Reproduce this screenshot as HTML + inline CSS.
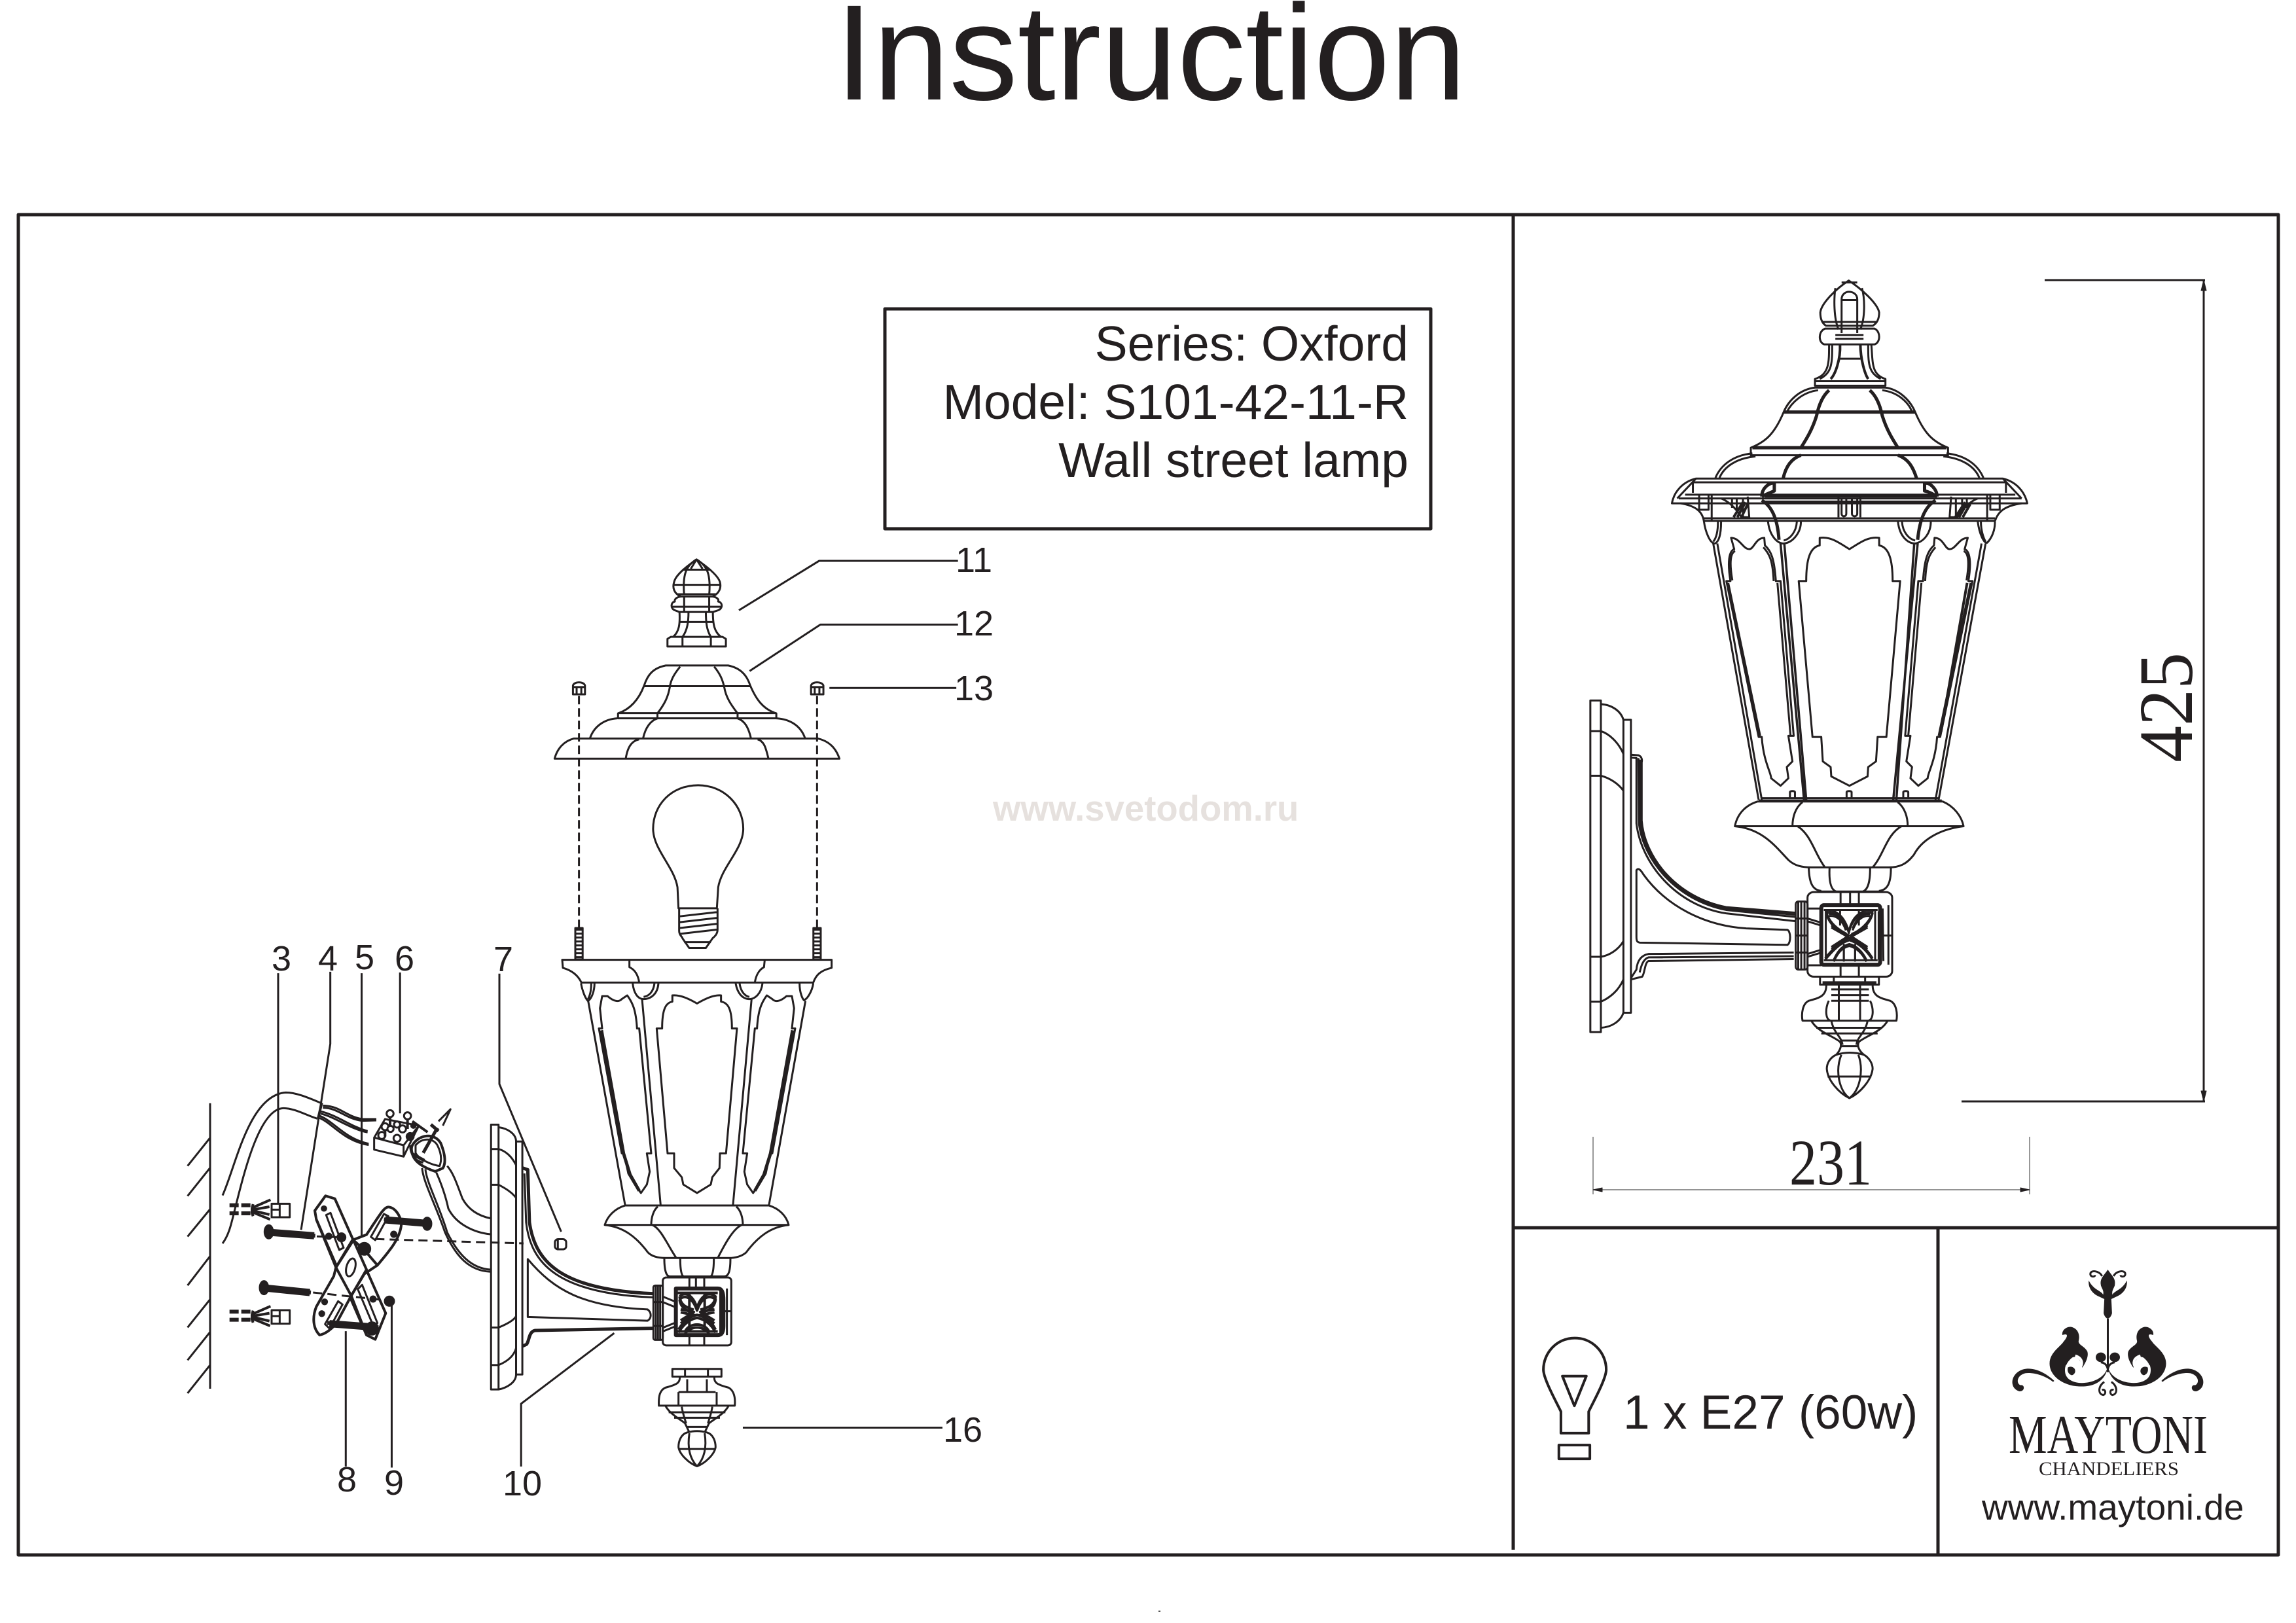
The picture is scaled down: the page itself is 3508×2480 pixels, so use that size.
<!DOCTYPE html>
<html>
<head>
<meta charset="utf-8">
<style>
html,body{margin:0;padding:0;background:#fff}
svg{display:block}
svg path,svg line,svg rect,svg circle,svg ellipse,svg use{vector-effect:non-scaling-stroke}
.l{fill:none;stroke:#231f20;stroke-width:3;stroke-linejoin:round}
.w{fill:#fff}
.t{stroke-width:5}
.k{fill:#231f20}
text{font-family:"Liberation Sans",sans-serif;fill:#231f20}
.s{font-family:"Liberation Serif",serif}
.n{font-size:54px}
</style>
</head>
<body>
<svg width="3508" height="2480" viewBox="0 0 3508 2480" xmlns="http://www.w3.org/2000/svg">
<rect width="3508" height="2480" fill="#fff"/>

<text x="1276" y="152" font-size="208" textLength="964" lengthAdjust="spacingAndGlyphs">Instruction</text>

<g class="l" style="stroke-width:5">
<rect x="28" y="328" width="3453" height="2048"/>
<path d="M2312,328 L2312,2368"/>
<path d="M2312,1876 L3481,1876"/>
<path d="M2961,1876 L2961,2376"/>
<rect x="1352" y="472" width="834" height="336"/>
</g>

<text x="2152" y="551" font-size="75" text-anchor="end">Series: Oxford</text>
<text x="2152" y="640" font-size="75" text-anchor="end">Model: S101-42-11-R</text>
<text x="2152" y="729" font-size="75" text-anchor="end">Wall street lamp</text>

<text x="1517" y="1254" font-size="54.5" font-weight="bold" style="fill:#e6e1de">www.svetodom.ru</text>

<!-- part labels -->
<text class="n" x="1460" y="874">11</text>
<text class="n" x="1458" y="971">12</text>
<text class="n" x="1458" y="1070">13</text>
<text class="n" x="1441" y="2203">16</text>
<text class="n" x="415" y="1483">3</text>
<text class="n" x="486" y="1483">4</text>
<text class="n" x="542" y="1481">5</text>
<text class="n" x="603" y="1483">6</text>
<text class="n" x="754" y="1484">7</text>
<text class="n" x="515" y="2279">8</text>
<text class="n" x="587" y="2284">9</text>
<text class="n" x="768" y="2285">10</text>

<!-- LEFT LAMP: top parts -->
<g class="l" transform="translate(780,820) scale(.5102,.4464)">
<path d="M684,252 L924,83 L1340,83 M716,460 L928,301 L1340,301 M955,518 L1335,518"/>
<path d="M470,376 L470,350 L480,343 L635,343 L645,350 L645,376 Z M515,345 L515,376 M600,345 L600,376"/>
<path d="M487,343 C505,325 508,300 506,258 M630,343 C610,325 606,300 606,258 M515,343 C530,320 533,290 533,258 M600,343 C587,320 585,290 585,258 M506,292 L606,292"/>
<path d="M506,258 L492,252 C478,245 480,225 492,222 C490,212 500,207 510,205 L605,205 C615,207 625,212 622,222 C635,225 637,245 622,252 L606,258 Z M480,240 L634,240 M520,205 L520,258 M595,205 L595,258"/>
<path d="M510,205 C490,195 484,175 490,155 C495,130 530,100 557,78 C585,100 620,130 627,155 C632,175 625,195 605,205 M488,165 L630,165 M500,197 L618,197 M515,113 L600,113 M557,78 C525,100 515,130 520,200 M557,78 C590,100 600,130 595,200 M557,78 L540,110 M557,78 L575,110"/>
<path d="M465,441 C425,450 410,475 400,510 C385,555 360,590 322,605 L322,622 L796,622 L796,605 C755,590 735,555 718,510 C708,475 690,450 652,441 Z M400,512 L718,512 M322,604 L796,604 M508,445 C490,470 480,490 477,515 C472,550 460,575 440,605 L440,622 M610,445 C628,470 635,490 640,515 C645,550 660,575 680,605 L680,622"/>
<path d="M320,622 C280,625 250,650 238,690 M796,622 C840,625 870,650 882,690 M440,622 C420,630 405,650 397,690 M680,622 C700,630 712,650 720,690"/>
<path d="M190,691 L920,691 C955,700 975,725 985,760 L132,760 C140,725 160,700 190,691 Z M385,694 C360,700 350,725 345,760 M740,694 C760,700 765,725 772,758"/>
<path d="M187,540 L187,510 C190,495 220,495 223,510 L223,540 Z M187,515 L223,515 M198,515 L198,540 M212,515 L212,540"/>
<path d="M900,540 L900,510 C903,495 933,495 937,510 L937,540 Z M900,515 L937,515 M911,515 L911,540 M925,515 L925,540"/>
<path stroke-dasharray="13 6" d="M205,545 L205,1340 M918,545 L918,1340"/>
<rect x="194" y="1340" width="22" height="107"/>
<rect x="907" y="1340" width="22" height="107"/>
<path stroke-dasharray="3 3" style="stroke-width:9" d="M205,1342 L205,1445 M918,1342 L918,1445"/>
<path d="M562,851 C480,851 427,920 427,1000 C427,1070 490,1130 500,1200 L503,1272 L618,1272 L622,1200 C632,1130 697,1070 697,1000 C697,920 640,851 562,851 Z"/>
<path d="M505,1272 L505,1350 C505,1365 515,1370 515,1375 L535,1408 L585,1408 L605,1375 C612,1368 620,1360 620,1345 L620,1272 M505,1300 L620,1285 M505,1320 L620,1305 M505,1340 L620,1325 M505,1360 L620,1345 M520,1388 L600,1388"/>
</g>

<!-- LEFT LAMP: body -->
<g class="l" transform="translate(820,1420) scale(.3333,.5612)">
<path d="M117,83 L1352,83 L1352,105 C1300,112 1280,125 1268,145 L205,145 C185,120 150,110 120,105 Z"/>
<path d="M425,85 L425,103 C450,110 465,125 470,145 M1045,85 L1042,103 C1020,110 1005,125 1000,145"/>
<path d="M203,147 C210,170 225,190 235,195 C250,190 265,170 265,147 M250,147 C250,165 245,180 235,190 M440,147 C445,175 465,190 490,190 C525,190 555,175 558,147 M540,147 C535,170 515,182 490,184 M912,147 C920,175 945,190 975,190 C1000,190 1030,175 1035,147 M930,147 C935,170 955,182 975,184 M1205,147 C1205,175 1220,190 1225,193 C1240,190 1262,170 1268,147"/>
<path d="M236,195 L405,750 M1232,195 L1065,750 M483,190 L568,750 M985,190 L900,750"/>
<path d="M622,180 L622,197 C590,200 575,220 575,270 L550,270 L600,610 L630,610 L630,650 L665,675 L672,695 L735,718 L798,695 L805,675 L838,650 L840,610 L868,610 L918,270 L895,270 C895,220 880,200 845,197 L845,180 C810,178 770,190 735,202 C700,190 660,178 622,180 Z"/>
<path id="lp" d="M300,182 L290,215 L300,270 L285,270 L390,610 L400,610 L420,665 L450,695 L478,718 L505,695 L518,660 L505,610 L525,610 L470,270 L460,270 C455,220 440,200 415,180 L390,190 C375,200 350,195 325,182 Z"/>
<path style="stroke-width:5" d="M297,275 L398,610 L428,668 L470,712"/>
<use href="#lp" transform="translate(1470,0) scale(-1,1)"/>
<path style="stroke-width:5" d="M1173,275 L1072,610 L1042,668 L1000,712"/>
<path d="M405,752 L1065,752 C1110,760 1145,780 1155,805 L312,805 C325,780 360,760 405,752 Z M555,755 C535,765 525,785 525,805 M915,755 C935,765 945,785 945,805"/>
<path d="M312,805 C400,810 460,840 510,880 C530,892 560,895 590,895 L880,895 C915,895 940,890 960,880 C1010,840 1070,810 1155,805 M530,805 C570,815 600,860 640,895 M940,805 C900,815 860,860 830,895"/>
<path d="M585,897 C585,930 595,945 610,945 L860,945 C880,945 888,930 888,897 M658,897 C658,930 665,945 675,945 M812,897 C812,930 805,945 795,945"/>
<rect x="578" y="948" width="314" height="185" rx="15" ry="9"/>
<path d="M700,948 L700,978 M730,948 L730,978 M768,948 L768,978 M700,1105 L700,1133 M768,1105 L768,1133 M872,978 L872,1105 M855,1040 L892,1040"/>
<rect x="535" y="970" width="43" height="148" rx="8" ry="5"/>
<path d="M546,970 L546,1118 M556,970 L556,1118 M566,970 L566,1118 M535,1015 L578,1015 M535,1080 L578,1080"/>
<path style="stroke-width:6" d="M638,1105 L638,978 L830,978 C850,978 856,990 856,1010 L856,1080 C856,1098 848,1105 830,1105 Z M846,985 L846,1100"/>
<path d="M578,1000 L640,1015 M578,1015 L640,1030 M578,1085 L640,1070 M578,1095 L640,1080"/>
<path id="orn1" style="stroke-width:4" d="M655,1000 C680,985 715,995 735,1030 C755,995 790,985 820,1000 C815,1025 785,1030 750,1036 M655,1000 C660,1025 690,1030 720,1036 M660,1035 L720,1042 L660,1065 M815,1035 L750,1042 L815,1065 M650,1090 C680,1060 715,1052 735,1050 C755,1052 795,1060 820,1090 M680,1095 C700,1070 770,1070 790,1095"/>
<use href="#orn1" transform="translate(0,8)"/>
<path style="stroke-width:4" d="M645,990 L830,990 M645,1095 L830,1095 M700,990 L700,1095 M770,990 L770,1095"/>
<path d="M622,1197 L847,1197 L847,1218 L622,1218 Z M680,1197 L680,1218 M785,1197 L785,1218"/>
<path d="M655,1218 C660,1235 640,1240 590,1248 C565,1255 558,1270 560,1297 L908,1297 C912,1270 900,1255 880,1248 C830,1240 810,1235 815,1218 M650,1260 L820,1260 M650,1260 L650,1297 M825,1260 L825,1297 M690,1225 L690,1260 M780,1225 L780,1260"/>
<path d="M590,1297 C610,1320 660,1335 680,1345 L700,1370 M880,1297 C860,1320 810,1335 790,1345 L770,1370 M605,1315 L865,1315 M630,1330 L840,1330 M665,1300 C670,1320 680,1335 685,1345 M805,1300 C800,1320 790,1335 785,1345 M690,1355 L780,1355"/>
<path d="M690,1370 C660,1375 650,1395 650,1410 C655,1430 700,1455 735,1462 C770,1455 815,1430 820,1410 C820,1395 810,1375 780,1370 C750,1365 720,1365 690,1370 Z M650,1415 L820,1415 M700,1372 C690,1410 700,1440 735,1462 M770,1372 C780,1410 770,1440 735,1462"/>
<path d="M945,1357 L1860,1357"/>
</g>

<!-- wall, bracket and leaders (overview) -->
<g class="l" transform="translate(240,1420) scale(.6378,.574)">
<path d="M290,117 L290,730 M415,113 L415,305 L345,800 M490,117 L490,820 M582,115 L582,490 M820,118 L820,412 L968,805 M452,1070 L452,1430 M562,1000 L562,1433 M1095,1075 L872,1263 L872,1430"/>
<path d="M127,463 L127,1223 M127,555 L73,630 M127,635 L73,710 M127,745 L73,818 M127,870 L73,948 M127,985 L73,1060 M127,1072 L73,1147 M127,1160 L73,1235"/>
<rect class="w" x="800" y="520" width="18" height="705"/>
<rect class="w" x="860" y="565" width="15" height="620"/>
<path d="M818,527 C840,530 860,545 860,565 M818,1225 C840,1220 860,1205 860,1185 M800,585 L818,585 C835,590 850,605 860,628 M800,680 L818,680 C835,690 850,700 860,715 M800,1060 L818,1060 C840,1050 855,1040 860,1030 M800,1160 L818,1160 C840,1150 855,1135 860,1115"/>
<path style="stroke-width:5" d="M875,635 L888,640 L892,780 C905,880 960,960 1190,970"/>
<path d="M880,650 L884,780 C895,890 960,970 1190,980 M888,878 C950,960 1020,1005 1175,1012 C1185,1020 1185,1035 1175,1042 L888,1032 Z"/>
<path style="stroke-width:5" d="M1190,1062 L905,1068 C890,1072 892,1095 885,1105 L875,1110"/>
<rect x="953" y="825" width="27" height="27" rx="8"/>
<path d="M960,825 L960,852"/>
</g>

<!-- bracket detail -->
<g class="l" transform="translate(340,1650) scale(.3333)">
<path d="M0,530 C60,400 120,70 290,58 C340,58 400,85 448,105 M0,750 C30,710 40,660 55,600 C100,420 170,130 280,130 C330,130 390,165 435,178"/>
<path style="stroke-width:4" d="M455,105 L438,178"/>
<path d="M460,118 C540,120 560,165 640,180 L705,180 M460,128 C535,130 555,175 640,188 L705,186 M450,145 C520,160 590,215 665,235 M450,155 C515,170 585,225 665,241 M445,165 C510,190 560,270 670,293 M445,175 C505,200 555,280 670,299"/>
<path class="w" d="M695,265 L695,320 L830,352 L860,290 L900,210 L745,180 Z"/>
<path d="M695,265 L830,300 L830,352 M830,300 L900,210"/>
<circle class="w" cx="768" cy="155" r="16"/><circle class="w" cx="848" cy="165" r="16"/><circle class="w" cx="745" cy="215" r="16"/><circle class="w" cx="800" cy="205" r="14"/><circle class="w" cx="825" cy="225" r="16"/><circle class="w" cx="730" cy="255" r="16"/><circle class="w" cx="800" cy="268" r="16"/><circle class="k" cx="860" cy="260" r="16"/><circle class="w" cx="770" cy="225" r="14"/><circle class="k" cx="875" cy="210" r="10"/>
<path style="stroke-width:4" d="M768,170 L768,210 M848,180 L848,225 M870,190 L940,240 M745,230 L745,260"/>
<path class="w" style="stroke-width:4" d="M870,300 C900,250 970,240 1000,290 C1020,340 1025,380 1010,405 L975,420 C930,405 880,380 870,340 C865,320 865,310 870,300 Z"/>
<path d="M885,300 C915,265 965,265 985,300 C1005,340 1005,370 995,395 C960,390 900,365 885,335 Z M860,300 C860,340 880,370 920,380"/>
<path style="stroke-width:5" d="M920,335 L985,220 M955,205 L990,235 M870,340 L925,370"/>
<path d="M990,190 L1045,135 L1010,210"/>
<path d="M1030,395 C1060,430 1075,480 1100,545 C1130,600 1180,625 1228,635 M980,425 C1000,470 1020,520 1035,590 C1070,660 1150,700 1228,708 M915,405 C920,470 980,580 1020,700 C1070,810 1130,875 1228,880 M930,410 C935,470 995,580 1030,700 C1080,800 1140,865 1228,870"/>

<g id="plug">
<path stroke-dasharray="14 4" style="stroke-width:6" d="M32,575 L135,575 M32,612 L135,612"/>
<path style="stroke-width:4" d="M140,570 L135,590 L135,610 L140,625 M140,585 L220,550 M140,595 L215,582 M140,600 L215,618 M140,608 L218,640"/>
<rect x="225" y="568" width="83" height="62"/>
<path d="M262,568 L262,630 M225,595 L262,595"/>
</g>
<use href="#plug" transform="translate(0,488)"/>

<path class="w" style="stroke-width:4" d="M472,532 L423,600 L430,640 L660,1170 L700,1190 L748,1070 L515,545 Z"/>
<path d="M475,620 L495,610 L555,770 L535,780 Z M620,960 L640,940 L710,1115 L690,1125 Z"/>
<path class="w" style="stroke-width:4" d="M760,583 C740,583 720,620 660,710 L595,735 L520,860 L510,900 L430,1040 C410,1090 415,1140 445,1170 C470,1165 490,1150 520,1120 L590,990 L650,890 L710,850 C760,790 815,730 820,660 C815,620 790,585 760,583 Z"/>
<path style="stroke-width:4" d="M600,735 L520,860 L590,990 M600,735 L650,780 L710,850 M520,860 L430,640 M590,990 L660,1170 M600,735 L660,870 L590,990"/>
<path d="M680,720 L740,615 L760,625 L700,735 Z M470,1120 L530,1015 L550,1030 L490,1140 Z"/>
<ellipse cx="588" cy="860" rx="20" ry="42" transform="rotate(15 588 860)"/>
<circle class="k" cx="650" cy="775" r="27"/>
<circle class="k" cx="465" cy="590" r="10"/><circle class="k" cx="487" cy="717" r="12"/><circle class="k" cx="545" cy="722" r="18"/>
<circle class="k" cx="690" cy="1005" r="12"/><circle class="k" cx="468" cy="1018" r="11"/><circle class="k" cx="455" cy="1072" r="11"/><circle class="k" cx="785" cy="708" r="12"/>
<circle class="k" cx="765" cy="1015" r="21"/>
<path style="stroke-width:6" d="M205,698 L425,715 M175,953 L405,975 M740,640 L940,658 M480,1115 L715,1135"/>
<path style="stroke-width:11" d="M225,700 L420,715 M200,955 L400,975 M745,642 L935,658 M490,1118 L710,1135"/>
<ellipse class="k" cx="212" cy="697" rx="19" ry="30"/>
<ellipse class="k" cx="190" cy="953" rx="19" ry="30"/>
<ellipse class="k" cx="938" cy="660" rx="19" ry="28"/>
<ellipse class="k" cx="685" cy="1140" rx="26" ry="28"/>
<path stroke-dasharray="14 8" d="M432,718 L545,722 M700,730 L1380,750 M415,975 L745,1010"/>
</g>

<!-- RIGHT LAMP top -->
<g class="l" transform="translate(2400,400) scale(.4783,.574)">
<path d="M888,50 C850,70 800,110 797,135 C797,155 805,165 815,170 L965,170 C975,165 985,155 985,135 C980,110 925,70 888,50 Z M805,160 L975,160 M845,70 C840,100 840,150 855,180 M930,70 C940,100 940,150 925,180 M865,55 L915,55 M865,100 C865,85 880,80 888,80 C900,80 915,85 915,100 L915,190 M865,100 L865,190 M865,102 L915,102"/>
<path d="M812,178 L970,178 C990,185 990,215 970,220 L810,220 C790,215 790,185 812,178 Z M845,195 L935,195 M845,205 L935,205"/>
<path d="M825,220 C825,270 825,300 780,312 L780,330 L1005,330 L1005,312 C960,300 965,270 960,220 M835,220 C835,270 835,295 795,312 M950,220 C950,270 950,295 990,312 M855,258 L925,258 M780,318 L1005,318"/>
<path style="stroke-width:4" d="M860,220 C862,260 845,300 830,312 M925,220 C925,260 940,300 950,312"/>
<path d="M780,335 C730,340 695,370 680,400 C650,460 620,480 575,495 L575,515 L1205,515 L1205,495 C1160,480 1130,460 1100,400 C1085,370 1050,340 1005,335 L780,335 M790,342 C740,347 705,375 690,400 M995,342 C1045,347 1080,375 1090,400"/>
<path style="stroke-width:5" d="M680,400 L1100,400 M580,495 L1200,495"/>
<path style="stroke-width:5" d="M825,342 C800,360 790,390 785,410 C770,450 750,475 735,495 M955,342 C980,360 990,390 995,410 C1010,450 1030,475 1045,495"/>
<path d="M580,510 C520,515 480,540 462,575 M590,518 C530,523 490,545 475,575 M1200,510 C1260,515 1300,540 1318,575 M1190,518 C1250,523 1290,545 1305,575"/>
<path style="stroke-width:5" d="M735,515 C700,525 685,550 678,578 M1045,515 C1080,525 1095,550 1105,578"/>
<path d="M400,577 L1380,577 C1420,585 1450,610 1458,643 L323,643 C330,610 360,585 400,577 Z M390,587 L1390,587 L1390,615 M390,587 L390,615 M365,620 L1420,620 M345,630 L1440,630 M400,577 L340,630 M1380,577 L1440,630"/>
<path style="stroke-width:5" d="M620,623 L1170,623 M620,640 L1160,640"/>
<path d="M350,643 C400,650 420,665 425,690 L1355,690 C1365,665 1385,650 1440,643 M425,683 L1355,683 M410,622 L410,660 L440,660 L440,622 M1340,622 L1340,660 L1370,660 L1370,622 M450,622 L450,690 M1330,622 L1330,690"/>
<path d="M425,690 C430,720 445,750 460,750 C475,745 480,720 480,692 M470,692 C470,715 465,735 455,745 M630,692 C635,730 660,750 680,750 C710,748 735,720 735,692 M722,692 C720,720 700,738 680,742 M1045,692 C1050,730 1075,750 1100,750 C1130,745 1150,720 1150,692 M1058,692 C1060,720 1080,738 1100,742 M1300,692 C1305,725 1320,750 1330,748 C1345,735 1355,715 1355,692 M1310,692 C1310,715 1318,735 1325,745"/>
<path style="stroke-width:5" d="M610,635 C640,650 660,680 665,740 M1165,635 C1135,650 1115,680 1108,740 M610,625 C610,600 640,585 650,590 L650,610 C635,615 620,620 610,625 M1170,625 C1170,605 1145,585 1130,590 L1130,610 C1145,612 1160,620 1170,625"/>
<path d="M855,625 L855,680 M925,625 L925,680 M865,632 L865,670 C865,680 880,680 880,670 L880,632 M898,632 L898,670 C898,680 915,680 915,670 L915,632 M850,683 L930,683"/>
<path d="M480,630 C510,640 530,660 545,680 L570,680 L565,625 M515,632 L515,655 M530,632 L530,660 M550,632 L550,680 M1300,630 C1270,640 1250,660 1235,680 L1210,680 L1215,625 M1265,632 L1265,655 M1250,632 L1250,660 M1230,632 L1230,680"/>
<path style="stroke-width:4" d="M520,680 L550,640 M532,680 L558,640 M545,680 L565,645 M1228,680 L1260,640 M1240,680 L1268,640 M1252,680 L1276,645"/>
<path d="M455,750 L600,1432 M468,750 L610,1432 M1325,750 L1175,1432 M1312,750 L1165,1432"/>
<path style="stroke-width:3.5" d="M670,750 L745,1432 M682,750 L752,1432 M1108,750 L1030,1432 M1097,750 L1040,1432"/>
<path d="M795,735 L795,755 C765,760 752,790 752,850 L728,850 L772,1265 L800,1265 L805,1330 L830,1345 L832,1370 L890,1395 L948,1370 L950,1345 L975,1330 L980,1265 L1008,1265 L1052,850 L1028,850 C1028,790 1015,760 985,755 L985,735 C950,730 920,750 890,765 C860,750 830,730 795,735 Z"/>
<path id="rp" d="M512,735 L522,765 C505,770 500,800 510,850 L497,850 L600,1265 L610,1265 C615,1330 640,1360 640,1375 L670,1395 L695,1375 L690,1345 L708,1330 L695,1262 L712,1262 L670,850 L655,850 C650,790 640,770 620,755 L618,735 C590,735 585,765 570,765 C550,765 540,735 512,735 Z"/>
<path d="M503,855 L605,1262 M660,855 L702,1262 M525,770 C510,775 506,800 516,848 M648,850 C645,795 635,778 615,760"/>
<use href="#rp" transform="translate(1780,0) scale(-1,1)"/>
<path d="M1277,855 L1175,1262 M1120,855 L1078,1262 M1255,770 C1270,775 1274,800 1264,848 M1132,850 C1135,795 1145,778 1165,760"/>
<path style="stroke-width:4" d="M1266,855 L1183,1250"/>
<path d="M610,1428 L1175,1428 M600,1434 L1185,1434 M700,1428 L700,1412 C700,1408 716,1408 716,1412 L716,1428 M881,1428 L881,1412 C881,1408 897,1408 897,1412 L897,1428 M1062,1428 L1062,1412 C1062,1408 1078,1408 1078,1412 L1078,1428"/>
</g>

<!-- RIGHT LAMP lower + bracket -->
<g class="l" transform="translate(2400,1050) scale(.3827,.4337)">
<path d="M745,403 L1485,403 C1530,420 1560,455 1568,490 L655,490 C665,445 700,415 745,403 Z M925,405 C895,425 885,460 885,490 M1305,405 C1335,425 1345,460 1345,490"/>
<path d="M655,490 C770,500 820,565 870,610 C895,630 925,635 960,635 L1270,635 C1310,635 1340,625 1370,590 C1400,540 1470,500 1568,490 M905,490 C960,520 975,590 1015,635 M1320,490 C1260,520 1250,590 1205,635"/>
<path d="M950,637 C952,690 965,715 1000,718 M1278,637 C1278,690 1265,715 1230,718 M1033,637 C1030,690 1040,715 1060,720 M1195,637 C1195,690 1185,715 1165,720 M1000,720 L1230,720"/>
<rect x="945" y="722" width="338" height="298" rx="25" ry="20"/>
<path d="M1077,722 L1077,768 M1115,722 L1115,768 M1150,722 L1150,768 M1077,978 L1077,1020 M1150,978 L1150,1020 M1268,768 L1268,978 M1245,875 L1283,875"/>
<rect x="898" y="755" width="47" height="240" rx="10"/>
<path d="M908,755 L908,995 M920,755 L920,995 M933,755 L933,995 M898,815 L945,815 M898,875 L945,875 M898,935 L945,935"/>
<path d="M945,780 L1000,780 M945,980 L1000,980 M945,815 L1000,830 M945,825 L1000,840 M945,940 L1000,925 M945,950 L1000,935"/>
<rect x="1000" y="768" width="235" height="210" rx="10" style="stroke-width:6"/>
<path style="stroke-width:6" d="M1233,790 L1233,960"/>
<path d="M1245,780 L1248,965"/>
<path id="orn2" d="M1020,790 C1050,780 1090,800 1110,860 C1125,800 1170,780 1205,790 C1195,830 1150,860 1120,870 M1020,790 C1030,830 1070,855 1100,868 M1030,800 C1060,795 1085,815 1098,850 M1195,800 C1165,795 1140,815 1125,850 M1040,840 L1110,875 L1040,915 M1185,840 L1115,875 L1185,915 M1015,955 C1060,905 1090,890 1112,885 C1130,890 1170,905 1205,955 M1050,960 C1070,920 1090,910 1112,905 C1135,910 1160,925 1180,960 M1090,960 L1090,905 M1135,960 L1135,905"/>
<use href="#orn2" transform="translate(0,7)"/>
<path d="M1010,785 L1225,785 M1010,962 L1225,962 M1018,785 L1018,962 M1215,785 L1215,962 M1075,785 L1075,840 M1150,785 L1150,840"/>
<rect x="78" y="47" width="42" height="1168"/>
<rect x="210" y="115" width="30" height="1032"/>
<path d="M120,60 C165,62 200,85 210,115 M120,1200 C165,1198 200,1175 210,1147 M78,155 L120,155 C155,165 190,195 210,235 M78,312 L120,312 C155,320 190,340 210,365 M78,950 L120,950 C155,945 190,925 210,895 M78,1108 L120,1108 C155,1095 190,1070 210,1030"/>
<path d="M240,238 L270,240 C285,245 285,258 283,265 L283,470 C295,600 420,740 620,775 L900,795 M240,248 L262,250 L262,480 C280,620 420,770 620,797 L900,825 M270,250 L272,480 C290,610 420,750 620,785 L900,810 M277,255 L278,475 C292,605 420,745 620,780 L900,802"/>
<path d="M262,645 C270,635 280,645 290,660 C380,770 530,840 700,850 L865,855 C878,860 880,900 865,908 L275,900 C265,898 262,895 262,880 Z"/>
<path d="M890,935 L310,940 C280,945 265,965 262,995 L240,1025 M890,958 L310,965 C295,970 295,1010 285,1020 L240,1030 M890,948 L310,952 C288,958 280,985 275,1005"/>
<path d="M995,1022 L995,1048 L1230,1048 L1230,1022 M1050,1022 L1050,1048 M1175,1022 L1175,1048"/>
<path style="stroke-width:5" d="M1005,1042 L1220,1042"/>
<path d="M1020,1050 C1020,1090 990,1095 950,1105 C925,1115 920,1150 925,1175 L1300,1175 C1305,1150 1300,1115 1275,1105 C1235,1095 1205,1090 1205,1050 M1030,1105 C1015,1130 1015,1175 1040,1175 M1195,1105 C1210,1130 1210,1175 1185,1175 M1070,1050 L1070,1175 M1155,1050 L1155,1175 M1040,1105 L1190,1105 M1040,1065 L1190,1065 M1040,1085 L1190,1085"/>
<path d="M960,1175 C985,1215 1050,1230 1075,1250 C1085,1265 1070,1285 1060,1295 M1265,1175 C1240,1215 1175,1230 1150,1250 C1140,1265 1155,1285 1170,1295 M980,1200 L1240,1200 M1000,1220 L1225,1220 M1040,1175 C1050,1220 1080,1230 1085,1260 M1185,1175 C1175,1220 1145,1230 1140,1260 M1080,1265 L1145,1265 M1075,1245 L1150,1245"/>
<path d="M1060,1295 C1035,1305 1022,1325 1022,1345 C1025,1385 1070,1430 1112,1448 C1155,1430 1200,1385 1205,1345 C1205,1325 1190,1305 1170,1295 C1130,1285 1095,1285 1060,1295 Z M1025,1372 L1200,1372 M1080,1295 C1055,1350 1070,1420 1112,1448 M1148,1295 C1170,1350 1155,1420 1112,1448"/>
</g>

<!-- dimensions -->
<g class="l">
<path d="M3124,428 L3369,428 M2997,1683 L3369,1683 M3367,428 L3367,1683"/>
<path style="stroke-width:1.2;stroke:#555" d="M2434,1737 L2434,1825 M3101,1737 L3101,1825"/>
<path style="stroke-width:1.2;stroke:#555" d="M2434,1818 L3101,1818"/>
<path class="k" style="stroke-width:1" d="M3367,428 L3363,444 L3371,444 Z M3367,1683 L3363,1667 L3371,1667 Z M2434,1818 L2448,1815 L2448,1821 Z M3101,1818 L3087,1815 L3087,1821 Z"/>
</g>
<text class="s" x="2734" y="1810" font-size="100" textLength="126" lengthAdjust="spacingAndGlyphs">231</text>
<text class="s" transform="translate(3349,1165) rotate(-90)" font-size="118" textLength="168" lengthAdjust="spacingAndGlyphs">425</text>

<!-- bulb icon -->
<g class="l" style="stroke-width:4" transform="translate(2280,1850) scale(.4464,.357)">
<path d="M282,545 C220,545 175,610 175,680 C175,720 220,820 235,860 L235,952 L330,952 L330,860 C345,820 390,720 390,680 C390,610 345,545 282,545 Z"/>
<path d="M240,708 L322,708 L281,835 Z"/>
<rect x="228" y="1003" width="106" height="59"/>
</g>
<text x="2480" y="2183" font-size="73">1 x E27 (60w)</text>

<!-- logo -->
<g transform="translate(2950,1900) scale(.3559,.3333)">
<g fill="#231f20" stroke="none">
<path d="M760,120 C775,145 795,160 790,190 C790,200 775,215 780,235 C790,215 820,215 842,170 C845,200 830,230 795,245 L775,255 L778,320 C775,335 765,345 760,345 C755,345 745,335 742,320 L745,255 L725,245 C690,230 675,200 678,170 C700,215 730,215 740,235 C745,215 730,200 730,190 C725,160 745,145 760,120 Z"/>
<g id="sc">
<path d="M565,420 C560,395 590,375 610,385 C635,395 640,425 635,445 C630,465 660,470 672,495 C680,520 660,555 650,570 C645,530 620,505 600,530 C570,560 565,610 605,630 C640,650 720,640 750,590 L760,570 C745,640 690,660 630,655 C570,650 510,610 510,550 C510,500 560,470 570,450 C590,425 590,410 565,420 Z"/>
<circle cx="600" cy="585" r="20"/>
<circle cx="730" cy="522" r="22"/>
<path d="M530,630 C480,580 420,560 380,585 C340,610 340,665 380,678 C405,680 405,645 385,650 C365,640 370,605 405,595 C440,590 490,605 525,635 Z"/>
</g>
<use href="#sc" transform="translate(1520,0) scale(-1,1)"/>
</g>
<path fill="none" stroke="#fff" stroke-width="4" d="M620,515 C650,525 655,550 640,570 M585,560 C575,590 590,615 620,610"/>
<path fill="none" stroke="#fff" stroke-width="4" transform="translate(1520,0) scale(-1,1)" d="M620,515 C650,525 655,550 640,570 M585,560 C575,590 590,615 620,610"/>
<g fill="none" stroke="#231f20" stroke-width="3">
<path d="M760,345 L760,570 M730,545 C765,550 760,590 760,590 M790,545 C755,550 760,590 760,590 M735,150 C725,125 685,120 685,140 C685,155 705,155 705,145 M785,150 C795,125 835,120 835,140 C835,155 815,155 815,145 M745,635 C720,650 715,690 740,695 C755,690 750,665 735,672 M775,635 C800,650 805,690 780,695 C765,690 770,665 785,672"/>
</g>
</g>
<text class="s" x="3069" y="2220" font-size="84" textLength="304" lengthAdjust="spacingAndGlyphs">MAYTONI</text>
<text class="s" x="3115" y="2254" font-size="30" textLength="214" lengthAdjust="spacingAndGlyphs">CHANDELIERS</text>
<text x="3028" y="2322" font-size="55">www.maytoni.de</text>

<rect x="1770" y="2461" width="3" height="2" fill="#555"/>
</svg>
</body>
</html>
